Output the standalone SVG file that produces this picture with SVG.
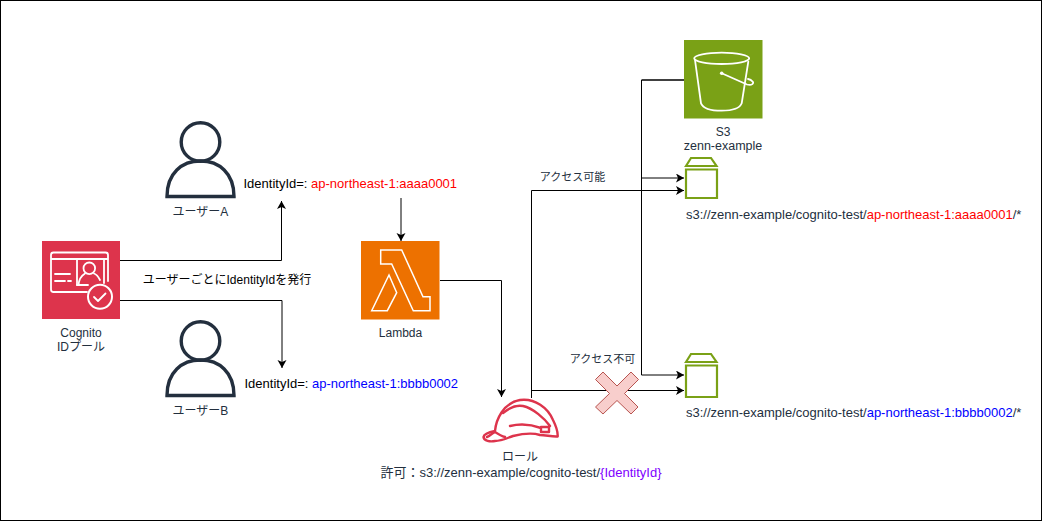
<svg xmlns="http://www.w3.org/2000/svg" width="1043" height="522" viewBox="0 0 1043 522">
<style>
text{font-family:"Liberation Sans","Noto Sans CJK JP",sans-serif;font-size:12px;fill:#232f3e}
.m{text-anchor:middle}
.k{fill:#000}
.l{font-size:13px}
.s{font-size:11px}
.r{fill:#ff0000}
.b{fill:#0000ff}
.p{fill:#7f00ff}
.c{fill:none;stroke:#000;stroke-width:1;marker-end:url(#a)}
.w{fill:none;stroke:#fff;stroke-width:1.8;stroke-linejoin:round;stroke-linecap:round}
.u{fill:none;stroke:#232f3e;stroke-width:3.4}
.g{fill:none;stroke:#7aa116;stroke-width:2.2}
.h{fill:none;stroke:#dd344c;stroke-width:2.400;stroke-linejoin:round;stroke-linecap:round}
</style>
<defs>
<marker id="a" markerUnits="userSpaceOnUse" markerWidth="9" markerHeight="10" refX="8" refY="4.5" orient="auto"><path d="M0 0L8 4.5L0 9L2 4.5Z" fill="#000"/></marker>
</defs>
<rect width="1043" height="522" fill="#fff"/>
<rect x="0.5" y="0.5" width="1041" height="520" fill="none" stroke="#000"/>
<g id="connectors">
<path class="c" d="M120 260.5H281.5V201"/>
<path class="c" d="M120 300.5H282V368"/>
<path class="c" d="M401 198V241"/>
<path class="c" d="M440 280.5H501.5V397"/>
<path class="c" d="M531.500 398V190.500H684"/>
<path class="c" d="M531.500 390.500H684"/>
<path d="M684 80H641.500" fill="none" stroke="#000" stroke-width="1.600"/>
<path class="c" d="M641.500 80V178H684"/>
<path class="c" d="M641.500 178V375H684"/>
</g>
<g id="cognito">
<rect x="42" y="241" width="78" height="78" fill="#dd344c"/>
<path class="w" d="M87 292H53.500a2.500 2.500 0 0 1-2.500-2.500V255a2.500 2.500 0 0 1 2.500-2.500H105.500a2.500 2.500 0 0 1 2.500 2.500V281M51 259H77M104 259H108M55 274H70M55 281H65M68 281H71"/>
<path class="w" d="M77 285V259H104V283"/>
<circle class="w" cx="89.300" cy="268.300" r="5.800"/>
<path class="w" d="M78.500 285c.5-6 4-10 6.500-11.500M100 280c-1.500-3-3-5.500-6-6.500"/>
<path class="w" d="M77 285H88"/>
<circle cx="100" cy="296.700" r="12" fill="#dd344c" stroke="#fff" stroke-width="2"/>
<path class="w" d="M94 297l4 4 7.500-7.500"/>
<text class="m" x="81" y="337">Cognito</text>
<text class="m" x="81" y="351">IDプール</text>
</g>
<g id="userA">
<circle class="u" cx="200.500" cy="142" r="19.300"/>
<path class="u" d="M167 196.500C167 173 182 161 200.500 161S234 173 234 196.500Z"/>
<text class="m" x="200.500" y="216">ユーザーA</text>
</g>
<g id="userB">
<circle class="u" cx="200.500" cy="341" r="19.300"/>
<path class="u" d="M167 395.500C167 372 182 360 200.500 360S234 372 234 395.500Z"/>
<text class="m" x="200.500" y="415">ユーザーB</text>
</g>
<text class="k l" x="243.500" y="188">IdentityId=: <tspan class="r">ap-northeast-1:aaaa0001</tspan></text>
<text class="k l" x="244.500" y="388">IdentityId=: <tspan class="b">ap-northeast-1:bbbb0002</tspan></text>
<text class="k m" x="227" y="284">ユーザーごとにIdentityIdを発行</text>
<g id="lambda">
<rect x="361" y="241" width="78.500" height="78.500" fill="#ed7100"/>
<path d="M380.700 250H401.700L423 296.700H430V310.700H413.300L391.700 264H380.700ZM389 275L396.700 292.700 387.300 310.700H371.700Z" fill="none" stroke="#fff" stroke-width="1.500" stroke-linejoin="miter"/>
<text class="m" x="400.500" y="337">Lambda</text>
</g>
<g id="role">
<path class="h" d="M495 431C496 420 503 403 520 400C535 398 548 408 553 420C556 426 558 431 557.700 436.500C552 437 546 435 540 435C531 432 521 434 513 436C507 438 502 441 495 441C490 442 484 441 483.500 437C484 434 490 432 495 431Z"/>
<path class="h" d="M503 413C509 408 517 405 523 406C533 408 545 419 550 426M510 426C518 424 530 424 541 428M541 427H549V432H541ZM487 437C490 436 492 433 495 432C498 434 501 436 505 437"/>
<text class="m" x="520" y="461">ロール</text>
<text class="m l" x="521" y="477">許可：s3://zenn-example/cognito-test/<tspan class="p">{IdentityId}</tspan></text>
</g>
<g id="s3">
<rect x="684" y="40" width="78.500" height="78.500" fill="#7aa116"/>
<path class="w" d="M695 60L701 103.300C703 108 710 110.700 721.700 110.700S740 108 741.700 103.300L748.300 61.700"/>
<ellipse class="w" cx="721.700" cy="58.300" rx="27.500" ry="5.700"/>
<path class="w" d="M721.700 73.300L747 84.500C752 86 754.500 83 752.500 81.500C751 79.500 748 79 748 79"/>
<circle cx="721.700" cy="73.300" r="1.800" fill="#fff"/>
<text class="m" x="723" y="136">S3</text>
<text class="m" x="723" y="150" style="font-size:12.500px">zenn-example</text>
</g>
<text class="s m" x="572.500" y="181">アクセス可能</text>
<text class="s m" x="602.500" y="363">アクセス不可</text>
<g id="bucketA">
<path class="g" d="M686 166L691 158H711L716.500 166ZM686 169.500H717V198H686Z"/>
<text class="l" x="686" y="219">s3://zenn-example/cognito-test/<tspan class="r">ap-northeast-1:aaaa0001</tspan>/*</text>
</g>
<g id="bucketB">
<path class="g" d="M686 362L691 354H711L716.500 362ZM686 365.500H717V397H686Z"/>
<text class="l" x="686" y="417">s3://zenn-example/cognito-test/<tspan class="b">ap-northeast-1:bbbb0002</tspan>/*</text>
</g>
<g id="deny">
<path d="M603 372L617 386 631 372 638.500 379.500 624.500 393.500 638 407 631 414 617 400.500 603 414 595.500 407 609.500 393.500 595.500 379.500Z" fill="#f8cecc" stroke="#b85450"/>
</g>
</svg>
